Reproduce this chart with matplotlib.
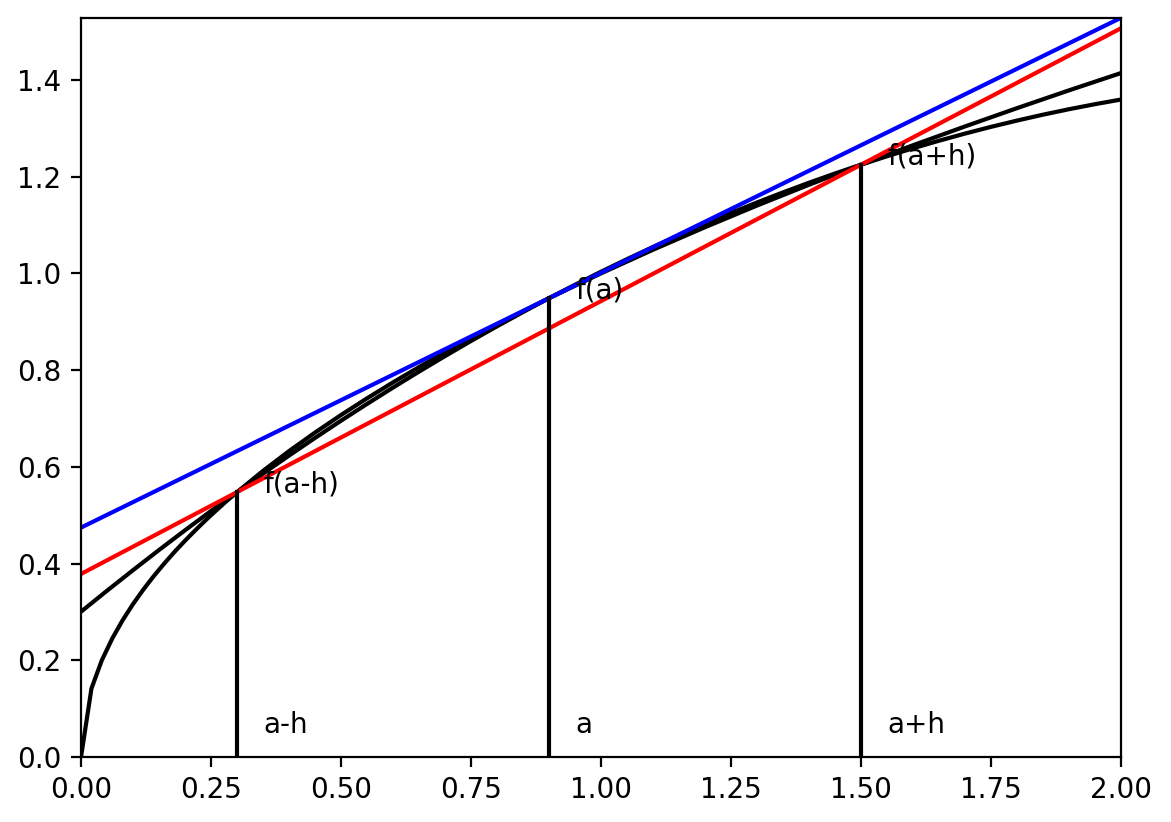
import matplotlib
matplotlib.use("Agg")
import matplotlib.pyplot as plt

f_x = [0, 0.02, 0.04, 0.06, 0.08, 0.10, 0.12, 0.14, 0.16, 0.18, 0.20, 0.22, 0.24,
       0.26, 0.28, 0.30, 0.35, 0.40, 0.45, 0.50, 0.55, 0.60, 0.65, 0.70, 0.75,
       0.80, 0.90, 1.00, 1.10, 1.20, 1.30, 1.40, 1.50, 1.60, 1.70, 1.80, 1.90, 2.00]
f_y = [0.0, 0.1414, 0.2000, 0.2449, 0.2828, 0.3162, 0.3464, 0.3742, 0.4000, 0.4243,
       0.4472, 0.4690, 0.4899, 0.5099, 0.5292, 0.5477, 0.5916, 0.6325, 0.6708,
       0.7071, 0.7416, 0.7746, 0.8062, 0.8367, 0.8660, 0.8944, 0.9487, 1.0000,
       1.0488, 1.0954, 1.1402, 1.1832, 1.2247, 1.2649, 1.3038, 1.3416, 1.3784,
       1.4142]

# interpolating parabola through the three points
q_x = [0.00, 0.05, 0.10, 0.15, 0.20, 0.25, 0.30, 0.35, 0.40, 0.45, 0.50, 0.55,
       0.60, 0.65, 0.70, 0.75, 0.80, 0.85, 0.90, 0.95, 1.00, 1.05, 1.10, 1.15,
       1.20, 1.25, 1.30, 1.35, 1.40, 1.45, 1.50, 1.55, 1.60, 1.65, 1.70, 1.75,
       1.80, 1.85, 1.90, 1.95, 2.00]
q_y = [0.3004, 0.3438, 0.3863, 0.4280, 0.4688, 0.5087, 0.5477, 0.5859, 0.6232,
       0.6597, 0.6953, 0.7300, 0.7638, 0.7968, 0.8289, 0.8602, 0.8905, 0.9200,
       0.9487, 0.9765, 1.0034, 1.0294, 1.0546, 1.0789, 1.1023, 1.1249, 1.1466,
       1.1674, 1.1874, 1.2065, 1.2247, 1.2421, 1.2586, 1.2742, 1.2890, 1.3029,
       1.3159, 1.3281, 1.3394, 1.3498, 1.3594]

# tangent at a (blue) and secant through a-h, a+h (red)
tangent_x = [0.0, 2.0]
tangent_y = [0.4743, 1.5284]
secant_x = [0.0, 2.0]
secant_y = [0.3785, 1.5068]

# marked points
pt_x = [0.3, 0.9, 1.5]
pt_y = [0.5477, 0.9487, 1.2247]
x_labels = ["a-h", "a", "a+h"]
f_labels = ["f(a-h)", "f(a)", "f(a+h)"]

fig = plt.figure(figsize=(5.855, 4.11), dpi=200)
ax = fig.add_axes([0.0692, 0.0791, 0.8881, 0.8990])

ax.plot(f_x, f_y, color="black")
ax.plot(q_x, q_y, color="black")
ax.plot(tangent_x, tangent_y, color="blue")
ax.plot(secant_x, secant_y, color="red")

for x, y, xl, fl in zip(pt_x, pt_y, x_labels, f_labels):
    ax.plot([x, x], [0, y], color="black")
    ax.text(x + 0.05, 0.05, xl)
    ax.text(x + 0.05, y, fl)

ax.set_xlim(0, 2)
ax.set_ylim(0, 1.528)

fig.savefig("out.png", dpi=200)
